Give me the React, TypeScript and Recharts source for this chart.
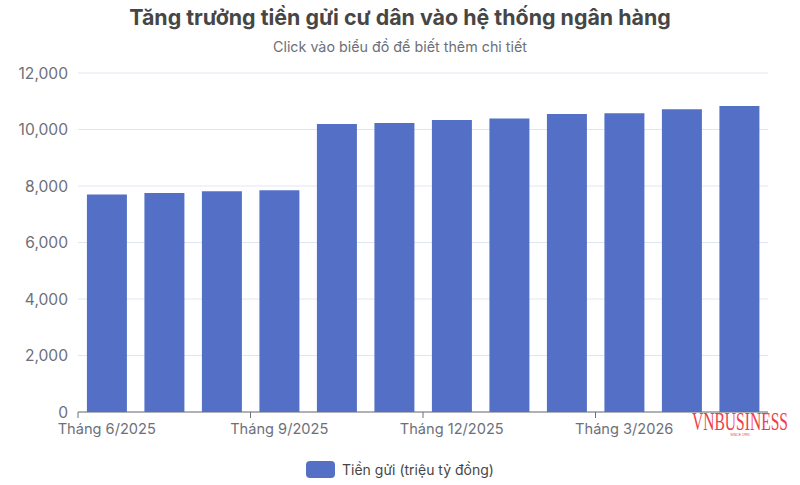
import React from "react";
import { BarChart, Bar, XAxis, YAxis, CartesianGrid, Legend } from "recharts";

const months = ["Tháng 6/2025","Tháng 7/2025","Tháng 8/2025","Tháng 9/2025","Tháng 10/2025","Tháng 11/2025","Tháng 12/2025","Tháng 1/2026","Tháng 2/2026","Tháng 3/2026","Tháng 4/2026","Tháng 5/2026"];
const deposits = [7700,7750,7810,7850,10195,10230,10335,10385,10550,10575,10715,10830];
const yTicks = [0,2000,4000,6000,8000,10000,12000];
const seriesName = "Tiền gửi (triệu tỷ đồng)";
const data = months.map((m,i)=>({month:m,value:deposits[i]}));
const FONT = "Inter, 'Open Sans', sans-serif";
const BLUE = "#5470C6";

const XTick = (p:any) => {
  const half = 690/12/2;
  return (
    <g>
      <line x1={p.x-half} x2={p.x-half} y1={p.y-8} y2={p.y-2} stroke="#6E7079" strokeWidth={1}/>
      <text x={p.x} y={p.y+14} textAnchor="middle" fill="#6E7079" fontSize={14.6} fontFamily={FONT}>{p.payload.value}</text>
    </g>
  );
};

const LegendBox = () => (
  <div style={{display:"flex",justifyContent:"center",alignItems:"center",fontFamily:FONT,fontSize:14,color:"#464646",height:20,paddingLeft:32}}>
    <span style={{width:29,height:17,background:BLUE,borderRadius:4,marginRight:7,display:"inline-block"}}/>
    <span>{seriesName}</span>
  </div>
);

export default function App(){
  return (
    <div style={{position:"absolute",left:0,top:0,width:800,height:485,background:"#fff",overflow:"hidden"}}>
      <div style={{position:"absolute",top:4,left:0,width:800,textAlign:"center",fontFamily:FONT,fontWeight:700,fontSize:21.4,color:"#464646"}}>Tăng trưởng tiền gửi cư dân vào hệ thống ngân hàng</div>
      <div style={{position:"absolute",top:38,left:0,width:800,textAlign:"center",fontFamily:FONT,fontSize:14.3,color:"#6E7079"}}>Click vào biểu đồ để biết thêm chi tiết</div>
      <BarChart width={800} height={485} data={data} margin={{top:73,right:32,bottom:6,left:0}} barCategoryGap="15.5%">
        <CartesianGrid horizontal vertical={false} stroke="#E0E6F1"/>
        <XAxis dataKey="month" interval={2} tickLine={false} axisLine={{stroke:"#6E7079"}} tick={<XTick/>} height={47}/>
        <YAxis width={78} domain={[0,12000]} ticks={yTicks} axisLine={false} tickLine={false} tickFormatter={(v:number)=>v.toLocaleString("en-US")} tick={{fill:"#6E7079",fontSize:15.6,fontFamily:FONT,dx:-2}}/>
        <Legend content={<LegendBox/>} verticalAlign="bottom"/>
        <Bar dataKey="value" name={seriesName} fill={BLUE} isAnimationActive={false}/>
      </BarChart>
      <svg style={{position:"absolute",left:0,top:0,pointerEvents:"none"}} width={800} height={485}>
        <text transform="translate(692,430) scale(0.623,1)" fill="#EF3E4A" fontFamily="'Liberation Serif',serif" fontSize={25}>VNBUSINESS</text>
        <text x={740} y={436} textAnchor="middle" fill="#EF3E4A" fontFamily="'Liberation Sans',sans-serif" fontSize={3.5}>SINCE 1995</text>
      </svg>
    </div>
  );
}
